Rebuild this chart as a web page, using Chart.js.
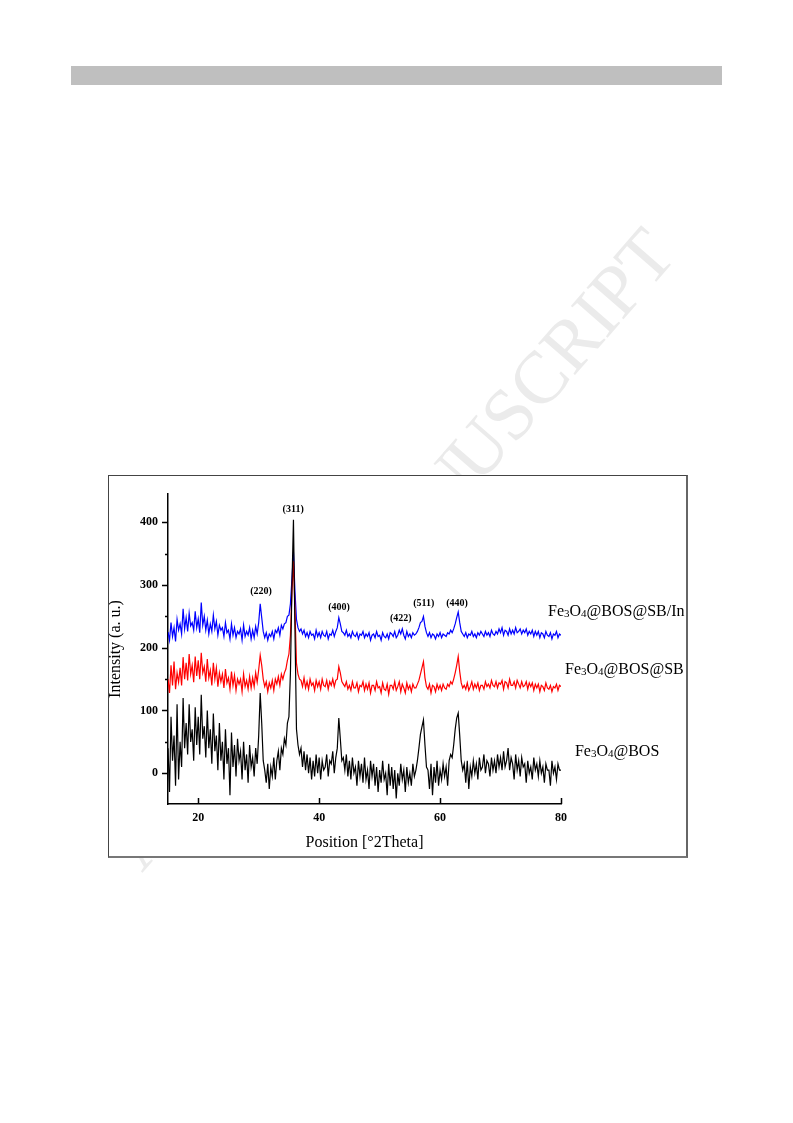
<!DOCTYPE html>
<html>
<head>
<meta charset="utf-8">
<script src="https://cdn.jsdelivr.net/npm/chart.js@4.4.0/dist/chart.umd.min.js"></script>
<style>
  body { margin: 0; background: #fff; }
  #page { position: relative; width: 793px; height: 1123px; overflow: hidden; background: #fff; }
  #bar { position: absolute; left: 71px; top: 66px; width: 651px; height: 19px; background: #bfbfbf; }
  #mark { position: absolute; left: 660px; top: 240px; transform-origin: 100% 50%;
          transform: translate(-100%, -50%) rotate(-49deg);
          font: 74px "Liberation Serif", serif; color: #ebebeb; white-space: nowrap; }
  #mark span { letter-spacing: -5px; }
  #box { position: absolute; left: 108px; top: 475px; width: 577px; height: 380px;
         border: 1px solid #444; border-right: 2px solid #666; border-bottom: 2px solid #777; background: #fff; }
  #box canvas { position: absolute; left: 0; top: 0; }
</style>
</head>
<body>
<div id="page">
  <div id="bar"></div>
  <div id="mark"><span>ACCEPTED MAN</span>USCRIPT</div>
  <div id="box"><canvas id="xrd" width="577" height="380"></canvas></div>
</div>
<script>
// 2θ 采样：15° 到 80°，步长 0.25°
var thetaStart = 15;
var thetaStep = 0.25;

// Fe3O4@BOS@SB/In（蓝）
var blueCounts = [
  225, 212, 240, 218,  232, 210, 245, 228,  238, 222, 262, 230,  248, 226, 255, 235,
  240, 228, 258, 232,  246, 224, 272, 236,  250, 228, 244, 222,  238, 226, 252, 230,
  242, 220, 236, 228,  232, 218, 240, 224,  228, 214, 238, 220,  232, 216, 226, 222,
  230, 212, 236, 218,  226, 220, 232, 214,  228, 216, 234, 222,  240, 270, 248, 226,
  216, 224, 212, 222,  218, 226, 214, 228,  224, 232, 220, 236,  230, 238, 240, 250,
  252, 270, 310, 352,  290, 245, 232, 226,  230, 222, 228, 218,  224, 216, 226, 220,
  222, 214, 228, 218,  224, 216, 226, 220,  218, 226, 214, 222,  220, 228, 218, 226,
  232, 248, 238, 226,  224, 220, 228, 218,  222, 216, 226, 220,  218, 224, 214, 222,
  220, 226, 216, 222,  218, 224, 212, 220,  222, 216, 226, 218,  220, 212, 224, 218,
  216, 222, 214, 224,  222, 218, 226, 216,  220, 228, 222, 230,  220, 214, 226, 218,
  222, 216, 224, 220,  222, 226, 232, 240,  242, 250, 234, 224,  218, 224, 216, 222,
  220, 214, 222, 218,  224, 216, 222, 220,  218, 224, 222, 228,  224, 230, 238, 248,
  257, 240, 226, 222,  218, 224, 216, 222,  220, 226, 218, 222,  216, 224, 220, 226,
  222, 218, 226, 220,  224, 218, 228, 222,  220, 226, 222, 230,  224, 232, 220, 228,
  226, 220, 230, 222,  228, 222, 232, 224,  226, 230, 222, 228,  224, 230, 220, 226,
  222, 228, 218, 226,  220, 226, 216, 224,  222, 216, 226, 220,  218, 224, 214, 222,
  220, 226, 216, 222,  220
];

// Fe3O4@BOS@SB（红）
var redCounts = [
  150, 128, 172, 140,  178, 134, 160, 145,  168, 140, 185, 150,  176, 148, 190, 158,
  172, 145, 186, 155,  180, 150, 192, 160,  170, 146, 182, 152,  164, 140, 176, 150,
  168, 138, 160, 146,  158, 136, 166, 144,  152, 134, 162, 140,  156, 132, 150, 142,
  150, 130, 158, 138,  148, 134, 154, 136,  152, 138, 160, 145,  165, 188, 172, 150,
  138, 146, 130, 144,  136, 148, 132, 150,  142, 154, 140, 158,  150, 160, 166, 180,
  190, 220, 290, 338,  260, 175, 158, 150,  148, 138, 152, 136,  146, 134, 150, 140,
  144, 132, 148, 138,  146, 134, 150, 140,  138, 148, 134, 146,  140, 150, 138, 148,
  150, 170, 160, 146,  142, 138, 146, 134,  140, 132, 146, 136,  136, 144, 130, 140,
  138, 146, 132, 142,  134, 144, 128, 140,  140, 132, 146, 136,  138, 128, 144, 134,
  132, 142, 126, 140,  140, 134, 146, 132,  138, 146, 130, 142,  136, 128, 144, 134,
  140, 130, 142, 136,  136, 142, 148, 158,  168, 178, 152, 138,  134, 142, 128, 140,
  138, 130, 142, 134,  140, 132, 142, 136,  134, 142, 138, 146,  142, 150, 160, 172,
  186, 162, 144, 136,  140, 134, 144, 132,  138, 146, 134, 142,  136, 144, 132, 140,
  140, 134, 146, 138,  142, 136, 148, 140,  138, 146, 136, 144,  142, 148, 134, 146,
  144, 136, 150, 140,  140, 146, 136, 148,  142, 136, 146, 138,  140, 146, 134, 144,
  138, 144, 132, 142,  136, 142, 130, 140,  138, 132, 144, 136,  134, 140, 130, 138,
  136, 142, 132, 140,  138
];

// Fe3O4@BOS（黑）
var blackCounts = [
   40, -30,  90,  20,   60, -20, 110, -10,   50,  10, 120,  40,   80,  30, 110,  50,
   70,  20, 105,  45,   90,  30, 125,  55,   75,  25, 100,  40,   70,  15,  95,  35,
   60,   5,  80,  20,   50, -10,  70,  15,   40, -35,  65,  10,   45,  -5,  55,  20,
   35, -10,  50,   5,   30, -15,  45,  10,   25,  -5,  40,  15,   60, 128,  80,  20,
    5, -15,  15, -25,   10,  -5,  25, -10,   20,  35,   5,  40,   30,  55,  45,  80,
   90, 160, 300, 404,  230,  70,  45,  30,   40,  10,  35,   5,   30,   0,  25, -10,
   20,  -5,  30,   0,   25, -10,  20,   5,   10,  30,  -5,  20,   15,  35,   0,  25,
   40,  88,  55,  20,   25,   5,  30,  -5,   20, -10,  25,   0,   10, -20,  20,  -5,
   15, -15,  25, -10,    5, -25,  20,  -5,   15, -20,  10, -30,    5, -15,  20, -10,
    0, -35,  15, -20,   10, -25,   5, -40,    0, -20,  15, -10,    5, -30,  10, -15,
    0, -20,  15,  -5,    5,  20,  40,  62,   74,  85,  45,  10,    5, -25,  15, -35,
   10, -15,  20, -20,    5, -10,  15,  -5,   10, -20,  20,  30,   25,  45,  70,  88,
   96,  60,  20,   5,   15, -15,  20, -25,   10,  -5,  20,   0,   15, -10,  25,   5,
   10,  30,   0,  20,   15,  -5,  25,   5,   20,   0,  30,  10,   25,   5,  35,  10,
   20,  40,   5,  25,   15, -10,  30,   5,   20,  -5,  25,  10,   15, -15,  20,   0,
   10, -10,  25,   5,   15,  -5,  20,   0,   10, -15,  15,   5,    5, -20,  20,   0,
   10, -10,  15,   5,    5
];

var xTicks = [20, 40, 60, 80];
var yTicks = [0, 100, 200, 300, 400];
var yMinorTicks = [50, 150, 250, 350];

// 晶面标注
var peakNames = ['(220)', '(311)', '(400)', '(422)', '(511)', '(440)'];
var peakTheta = [30.4, 35.7, 43.3, 53.5, 57.3, 62.8];
var peakLabelY = [289, 421, 264, 246, 271, 271];

// 曲线名称
var seriesNames = ['Fe3O4@BOS@SB/In', 'Fe3O4@BOS@SB', 'Fe3O4@BOS'];
var seriesLabelTheta = [77.85, 80.66, 82.3];
var seriesLabelY = [260, 168, 37];

function toPoints(counts) {
    return counts.map(function (v, i) {
        return { x: thetaStart + i * thetaStep, y: v };
    });
}

// 带下标的名称
function drawFormula(ctx, text, x, y) {
    var parts = text.match(/\d+|\D+/g);
    ctx.textBaseline = 'alphabetic';
    ctx.textAlign = 'left';
    parts.forEach(function (p) {
        if (/^\d+$/.test(p)) {
            ctx.font = '11px "Liberation Serif", serif';
            ctx.fillText(p, x, y + 1);
        } else {
            ctx.font = '16px "Liberation Serif", serif';
            ctx.fillText(p, x, y);
        }
        x += ctx.measureText(p).width;
    });
}

var annotate = {
    id: 'annotate',
    afterDraw: function (chart) {
        var ctx = chart.ctx;
        var xs = chart.scales.x, ys = chart.scales.y;
        var area = chart.chartArea;
        ctx.save();
        ctx.strokeStyle = '#000';
        ctx.lineWidth = 1.5;
        ctx.beginPath();
        xTicks.forEach(function (v) {
            var px = Math.round(xs.getPixelForValue(v)) + 0.5;
            ctx.moveTo(px, area.bottom);
            ctx.lineTo(px, area.bottom - 6);
        });
        yTicks.forEach(function (v) {
            var py = Math.round(ys.getPixelForValue(v)) + 0.5;
            ctx.moveTo(area.left, py);
            ctx.lineTo(area.left - 6, py);
        });
        yMinorTicks.forEach(function (v) {
            var py = Math.round(ys.getPixelForValue(v)) + 0.5;
            ctx.moveTo(area.left, py);
            ctx.lineTo(area.left - 3, py);
        });
        ctx.stroke();

        ctx.fillStyle = '#000';
        ctx.font = 'bold 10px "Liberation Serif", serif';
        ctx.textAlign = 'center';
        ctx.textBaseline = 'middle';
        peakNames.forEach(function (name, i) {
            ctx.fillText(name, xs.getPixelForValue(peakTheta[i]), ys.getPixelForValue(peakLabelY[i]));
        });

        seriesNames.forEach(function (name, i) {
            drawFormula(ctx, name, xs.getPixelForValue(seriesLabelTheta[i]), ys.getPixelForValue(seriesLabelY[i]) + 6);
        });
        ctx.restore();
    }
};

var tickFont = { family: '"Liberation Serif", serif', size: 12, weight: 'bold' };

new Chart(document.getElementById('xrd'), {
    type: 'line',
    data: {
        datasets: [
            { label: seriesNames[2], data: toPoints(blackCounts), borderColor: '#000000', borderWidth: 1.2 },
            { label: seriesNames[1], data: toPoints(redCounts), borderColor: '#ff0000', borderWidth: 1.2 },
            { label: seriesNames[0], data: toPoints(blueCounts), borderColor: '#0000ff', borderWidth: 1.2 }
        ]
    },
    options: {
        responsive: false,
        animation: false,
        layout: { padding: { top: 18, right: 125, left: 0, bottom: 0 } },
        elements: {
            point: { radius: 0 },
            line: { tension: 0, fill: false }
        },
        plugins: {
            legend: { display: false },
            tooltip: { enabled: false }
        },
        scales: {
            x: {
                type: 'linear',
                min: 15,
                max: 80,
                afterBuildTicks: function (s) { s.ticks = xTicks.map(function (v) { return { value: v }; }); },
                afterFit: function (s) { s.height = 52; },
                grid: { display: true, drawOnChartArea: false, drawTicks: false },
                border: { display: true, color: '#000', width: 1.5 },
                ticks: { color: '#000', font: tickFont, padding: 7, maxRotation: 0 },
                title: {
                    display: true,
                    text: 'Position [°2Theta]',
                    color: '#000',
                    font: { family: '"Liberation Serif", serif', size: 16 },
                    padding: { top: 0, bottom: 4 }
                }
            },
            y: {
                min: -49,
                max: 445,
                afterBuildTicks: function (s) { s.ticks = yTicks.map(function (v) { return { value: v }; }); },
                afterFit: function (s) { s.width = 59; },
                grid: { display: true, drawOnChartArea: false, drawTicks: false },
                border: { display: true, color: '#000', width: 1.5 },
                ticks: { color: '#000', font: tickFont, padding: 10 },
                title: {
                    display: true,
                    text: 'Intensity (a. u.)',
                    color: '#000',
                    font: { family: '"Liberation Serif", serif', size: 16, lineHeight: 0.9 },
                    padding: { top: 0, bottom: 0 }
                }
            }
        }
    },
    plugins: [annotate]
});
</script>
</body>
</html>
